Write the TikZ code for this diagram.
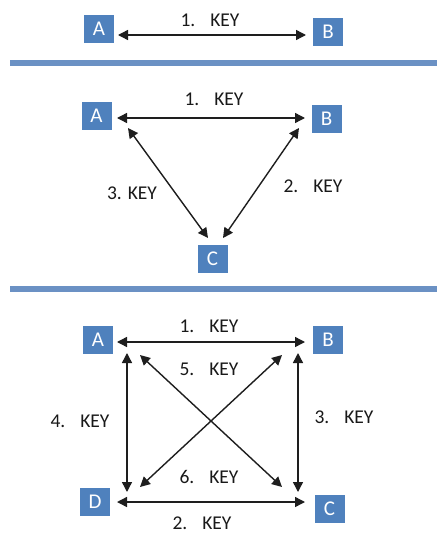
\documentclass[tikz,border=0pt]{standalone}
\usepackage{fontspec}
\setmainfont{Carlito}
\usetikzlibrary{arrows.meta}
\definecolor{boxblue}{HTML}{4F81BD}
\definecolor{barblue}{HTML}{6B91C4}
\definecolor{linkgray}{HTML}{1E1E1E}
\newcommand{\keygap}{\hspace{15pt}}
\begin{document}
\begin{tikzpicture}[x=1pt,y=-1pt,
  party/.style={fill=boxblue,text=white,minimum width=30pt,minimum height=28pt,
    inner sep=0pt,font=\fontsize{21}{23}\selectfont},
  keylabel/.style={anchor=base,text=black!90,inner sep=0pt,font=\fontsize{19.5}{21}\selectfont},
  link/.style={draw=linkgray,line width=1.4pt,
    {Triangle[length=10pt,width=10pt]}-{Triangle[length=10pt,width=10pt]}},
  bar/.style={draw=barblue,line width=6.5pt}]
\useasboundingbox (0,0) rectangle (437,533);

% separators
\coordinate (s1a) at (10,63);  \coordinate (s1b) at (437,63);
\coordinate (s2a) at (10,289); \coordinate (s2b) at (437,289);
\draw[bar] (s1a) -- (s1b);
\draw[bar] (s2a) -- (s2b);

% --- two parties ---
\node[party] (tA) at (99,28.5) {A};
\node[party] (tB) at (328,32) {B};
\coordinate (tA1) at (118,35);
\coordinate (tB1) at (306,35);
\draw[link] (tA1) -- (tB1);
\node[keylabel] (tk1) at (210,26) {1.\keygap KEY};

% --- three parties ---
\node[party] (mA) at (96.5,115.5) {A};
\node[party] (mB) at (326.5,119) {B};
\node[party] (mC) at (212.5,259) {C};
\coordinate (mAr) at (117,118);
\coordinate (mBl) at (305,118);
\coordinate (mAd) at (128,128);
\coordinate (mCl) at (208,238);
\coordinate (mBd) at (299,128);
\coordinate (mCr) at (223,238);
\draw[link] (mAr) -- (mBl);
\draw[link] (mAd) -- (mCl);
\draw[link] (mBd) -- (mCr);
\node[keylabel] (mk1) at (214,105) {1.\keygap KEY};
\node[keylabel] (mk3) at (132,199) {3. KEY};
\node[keylabel] (mk2) at (313,192) {2.\keygap KEY};

% --- four parties ---
\node[party] (bA) at (98,340) {A};
\node[party] (bB) at (328,339.5) {B};
\node[party] (bD) at (95,502) {D};
\node[party] (bC) at (329.5,509) {C};
\coordinate (bAr) at (117,342);
\coordinate (bBl) at (305,342);
\coordinate (bDr) at (117,502);
\coordinate (bCl) at (305,502);
\coordinate (bAd) at (127,353);
\coordinate (bDu) at (127,492);
\coordinate (bBd) at (298,353);
\coordinate (bCu) at (298,492);
\coordinate (bAx) at (140,355);
\coordinate (bCx) at (282,487);
\coordinate (bBx) at (282,355);
\coordinate (bDx) at (140,487);
\draw[link] (bAr) -- (bBl);
\draw[link] (bDr) -- (bCl);
\draw[link] (bAd) -- (bDu);
\draw[link] (bBd) -- (bCu);
\draw[link] (bAx) -- (bCx);
\draw[link] (bBx) -- (bDx);
\node[keylabel] (bk1) at (209,332) {1.\keygap KEY};
\node[keylabel] (bk5) at (209,375) {5.\keygap KEY};
\node[keylabel] (bk6) at (209,483) {6.\keygap KEY};
\node[keylabel] (bk2) at (202,529) {2.\keygap KEY};
\node[keylabel] (bk4) at (80,427) {4.\keygap KEY};
\node[keylabel] (bk3) at (344,423) {3.\keygap KEY};
\end{tikzpicture}
\end{document}
